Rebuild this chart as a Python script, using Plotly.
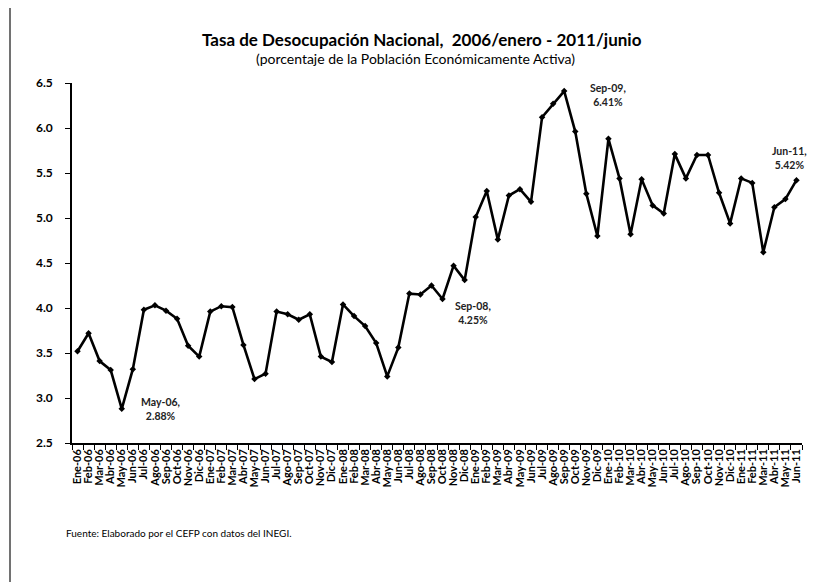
import plotly.graph_objects as go

meses = ["Ene", "Feb", "Mar", "Abr", "May", "Jun", "Jul", "Ago", "Sep", "Oct", "Nov", "Dic"]
periodos = [f"{m}-{a:02d}" for a in range(6, 12) for m in meses][:66]

tasa = [
    # 2006
    3.52, 3.72, 3.41, 3.31, 2.88, 3.32, 3.98, 4.03, 3.97, 3.88, 3.58, 3.46,
    # 2007
    3.96, 4.02, 4.01, 3.59, 3.21, 3.27, 3.96, 3.93, 3.87, 3.93, 3.46, 3.40,
    # 2008
    4.04, 3.91, 3.80, 3.61, 3.24, 3.56, 4.16, 4.15, 4.25, 4.10, 4.47, 4.31,
    # 2009
    5.01, 5.30, 4.76, 5.25, 5.32, 5.18, 6.12, 6.27, 6.41, 5.96, 5.27, 4.80,
    # 2010
    5.88, 5.44, 4.82, 5.43, 5.14, 5.05, 5.71, 5.44, 5.70, 5.70, 5.28, 4.94,
    # 2011
    5.44, 5.39, 4.62, 5.12, 5.21, 5.42,
]

y_ticks = [2.5, 3.0, 3.5, 4.0, 4.5, 5.0, 5.5, 6.0, 6.5]

etiquetas = [
    ("May-06", "May-06,<br>2.88%", 39, 0),
    ("Sep-08", "Sep-08,<br>4.25%", 42, -27),
    ("Sep-09", "Sep-09,<br>6.41%", 44, -4),
    ("Jun-11", "Jun-11,<br>5.42%", -7, 22),
]

FONT = "Lato"
OFF = 8  # page body margin of the html output
W, H = 831 - OFF, 582 - OFF
ML, MT = 72 - OFF, 83 - OFF
PW, PH = 730, 360
MR = W - ML - PW
MB = H - MT - PH

def px_to_paper_x(px):
    return (px - OFF - ML) / PW

def px_to_paper_y(py):
    return (MT + PH - (py - OFF)) / PH

fig = go.Figure()
fig.add_trace(go.Scatter(
    x=periodos, y=tasa, mode="lines+markers",
    line=dict(color="black", width=2.6),
    marker=dict(color="black", size=5, symbol="diamond"),
    showlegend=False, hoverinfo="x+y",
))

annotations = []
for cat, txt, xs, ys in etiquetas:
    val = tasa[periodos.index(cat)]
    annotations.append(dict(
        x=cat, y=val, xref="x", yref="y", text=txt, showarrow=False,
        xshift=xs, yshift=ys, align="center",
        font=dict(family=FONT, size=10.5, color="#222", weight="bold"),
    ))

annotations.append(dict(
    text="Tasa de Desocupación Nacional,  2006/enero - 2011/junio",
    xref="paper", yref="paper", x=px_to_paper_x(422), y=px_to_paper_y(40),
    xanchor="center", yanchor="middle", showarrow=False,
    font=dict(family=FONT, size=17, color="black", weight="bold"),
))
annotations.append(dict(
    text="(porcentaje de la Población Económicamente Activa)",
    xref="paper", yref="paper", x=px_to_paper_x(415), y=px_to_paper_y(58),
    xanchor="center", yanchor="middle", showarrow=False,
    font=dict(family=FONT, size=14, color="black"),
))
annotations.append(dict(
    text="Fuente: Elaborado por el CEFP con datos del INEGI.",
    xref="paper", yref="paper", x=px_to_paper_x(64), y=px_to_paper_y(533),
    xanchor="left", yanchor="middle", showarrow=False,
    font=dict(family=FONT, size=10, color="black"),
))

fig.update_layout(
    width=W, height=H,
    margin=dict(l=ML, r=MR, t=MT, b=MB, autoexpand=False),
    paper_bgcolor="white", plot_bgcolor="white",
    annotations=annotations,
    shapes=[dict(
        type="rect", xref="paper", yref="paper",
        x0=px_to_paper_x(10), x1=px_to_paper_x(850),
        y0=px_to_paper_y(620), y1=px_to_paper_y(6),
        line=dict(color="#444", width=1.5), fillcolor="rgba(0,0,0,0)",
        layer="below",
    )],
    xaxis=dict(
        type="category", range=[-0.5, len(periodos) - 0.5],
        tickmode="array", tickvals=periodos, ticktext=periodos,
        showline=True, linecolor="black", linewidth=1.5,
        ticks="outside", tickson="boundaries", ticklen=5, tickcolor="black",
        tickangle=-90, showgrid=False, zeroline=False,
        tickfont=dict(family=FONT, size=11, color="black", weight="bold"),
    ),
    yaxis=dict(
        range=[2.5, 6.5], tickvals=y_ticks, tickformat=".1f",
        showline=True, linecolor="black", linewidth=1.5,
        ticks="outside", ticklen=5, tickcolor="black",
        showgrid=False, zeroline=False, ticklabelstandoff=10,
        tickfont=dict(family=FONT, size=12, color="black", weight="bold"),
    ),
)

fig.write_html("out.html")
